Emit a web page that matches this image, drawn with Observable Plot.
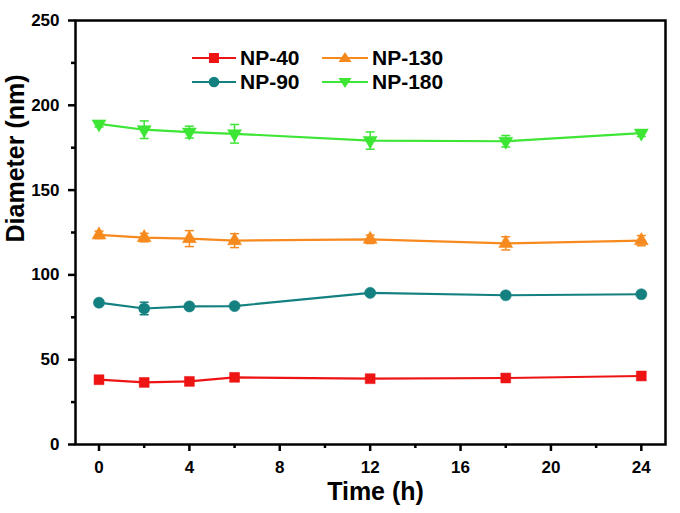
<!DOCTYPE html>
<html>
<head>
<meta charset="utf-8">
<script src="https://cdn.jsdelivr.net/npm/d3@7"></script>
<script src="https://cdn.jsdelivr.net/npm/@observablehq/plot@0.6"></script>
<style>
  body { margin: 0; background: #fff; }
  #wrap { position: relative; width: 680px; height: 513px; font-family: "Liberation Sans", Arial, sans-serif; }
  .leg { position: absolute; display: flex; align-items: center; height: 20px; font-size: 21px; line-height: 20px; font-weight: bold; color: #000; }
  .leg span { display: inline-block; height: 20px; line-height: 20px; overflow: visible; }
  .leg svg { margin-right: 4px; }
</style>
</head>
<body>
<div id="wrap"></div>
<script>
// ---- data ----
const times = [0, 2, 4, 6, 12, 18, 24];
const seriesNames = ["NP-40", "NP-90", "NP-130", "NP-180"];
const seriesColors = ["#ee1414", "#148080", "#f78a1e", "#3de535"];
const np40 = [38.2, 36.6, 37.2, 39.6, 38.8, 39.2, 40.4];
const np40Err = [1.0, 1.0, 1.0, 1.0, 0.8, 0.8, 0.8];
const np90 = [83.6, 80.2, 81.4, 81.6, 89.4, 88.0, 88.6];
const np90Err = [1.2, 3.7, 1.2, 1.2, 1.0, 1.0, 1.0];
const np130 = [123.6, 122.0, 121.4, 120.2, 121.0, 118.6, 120.2];
const np130Err = [2.2, 2.5, 4.7, 4.1, 2.5, 3.9, 3.0];
const np180 = [189.0, 185.6, 184.2, 183.2, 179.2, 178.8, 183.6];
const np180Err = [1.8, 5.2, 3.5, 5.5, 5.1, 3.4, 2.0];
const xMajorTicks = [0, 4, 8, 12, 16, 20, 24];
const xMinorTicks = [2, 6, 10, 14, 18, 22];
const yMajorTicks = [0, 50, 100, 150, 200, 250];
const yMinorTicks = [25, 75, 125, 175, 225];

const valueSets = [np40, np90, np130, np180];
const errSets = [np40Err, np90Err, np130Err, np180Err];

// ---- symbols ----
const triangleDown = {
  draw(ctx, size) {
    const y = Math.sqrt(size / (3 * Math.sqrt(3)));
    ctx.moveTo(0, 2 * y);
    ctx.lineTo(-Math.sqrt(3) * y, -y);
    ctx.lineTo(Math.sqrt(3) * y, -y);
    ctx.closePath();
  }
};
const triangleUp = {
  draw(ctx, size) {
    const y = Math.sqrt(size / (3 * Math.sqrt(3)));
    ctx.moveTo(0, -2 * y);
    ctx.lineTo(-Math.sqrt(3) * y, y);
    ctx.lineTo(Math.sqrt(3) * y, y);
    ctx.closePath();
  }
};
const cap = { draw(ctx) { ctx.moveTo(-4.5, 0); ctx.lineTo(4.5, 0); } };
const symbols = ["square", "circle", triangleUp, triangleDown];
const radii = [5.6, 5.6, 5.2, 5.2];

const rows = seriesNames.map((name, i) =>
  times.map((t, j) => ({series: name, t, v: valueSets[i][j], e: errSets[i][j]}))
);

const marks = [];
rows.forEach((data, i) => {
  const c = seriesColors[i];
  marks.push(Plot.ruleX(data, {x: "t", y1: d => d.v - d.e, y2: d => d.v + d.e, stroke: c, strokeWidth: 1.5}));
  marks.push(Plot.dot(data, {x: "t", y: d => d.v + d.e, symbol: cap, stroke: c, fill: "none", strokeWidth: 1.5}));
  marks.push(Plot.dot(data, {x: "t", y: d => d.v - d.e, symbol: cap, stroke: c, fill: "none", strokeWidth: 1.5}));
  marks.push(Plot.line(data, {x: "t", y: "v", stroke: c, strokeWidth: 2.2}));
  marks.push(Plot.dot(data, {x: "t", y: "v", symbol: symbols[i], r: radii[i], fill: c, stroke: c, strokeWidth: 0.5}));
});

const chart = Plot.plot({
  width: 680,
  height: 513,
  marginLeft: 75,
  marginRight: 15,
  marginTop: 20,
  marginBottom: 69,
  style: {fontFamily: "'Liberation Sans', Arial, sans-serif", background: "#fff", color: "#000"},
  x: {domain: [-1.04, 25.07], axis: null},
  y: {domain: [0, 250], axis: null},
  marks: [
    ...marks,
    Plot.axisX({ticks: xMajorTicks, tickSize: 7, tickPadding: 9, strokeWidth: 2.5, fontSize: 17, fontWeight: "bold", label: null}),
    Plot.axisX({ticks: xMinorTicks, tickSize: 4, strokeWidth: 2.5, tickFormat: () => "", label: null}),
    Plot.axisY({ticks: yMajorTicks, tickSize: 7, tickPadding: 9, strokeWidth: 2.5, fontSize: 17, fontWeight: "bold", label: null}),
    Plot.axisY({ticks: yMinorTicks, tickSize: 4, strokeWidth: 2.5, tickFormat: () => "", label: null}),
    Plot.frame({stroke: "#000", strokeWidth: 2.5}),
    Plot.text(["Time (h)"], {frameAnchor: "bottom", dy: 55, dx: 5, fontSize: 25, fontWeight: "bold", fill: "#000"}),
    Plot.text(["Diameter (nm)"], {frameAnchor: "left", rotate: -90, dx: -60, dy: 10, fontSize: 25, fontWeight: "bold", fill: "#000"})
  ]
});

const wrap = document.getElementById("wrap");
wrap.appendChild(chart);

// ---- legend (HTML overlay) ----
const legendPos = [[192, 57.5], [192, 81.5], [322, 57.5], [322, 81.5]];
function swatchSvg(i) {
  const c = seriesColors[i];
  const w = i < 2 ? 44 : 46;
  let marker;
  const cx = w / 2, cy = 8;
  if (i === 0) marker = `<rect x="${cx - 5}" y="${cy - 5}" width="10" height="10" fill="${c}"/>`;
  else if (i === 1) marker = `<circle cx="${cx}" cy="${cy}" r="5.3" fill="${c}"/>`;
  else if (i === 2) marker = `<path d="M${cx},${cy - 6}L${cx - 6.5},${cy + 4}L${cx + 6.5},${cy + 4}Z" fill="${c}"/>`;
  else marker = `<path d="M${cx},${cy + 6}L${cx - 6.5},${cy - 4}L${cx + 6.5},${cy - 4}Z" fill="${c}"/>`;
  return `<svg width="${w}" height="16"><line x1="0" x2="${w}" y1="${cy}" y2="${cy}" stroke="${c}" stroke-width="2.2"/>${marker}</svg>`;
}
seriesNames.forEach((name, i) => {
  const d = document.createElement("div");
  d.className = "leg";
  d.style.left = legendPos[i][0] + "px";
  d.style.top = (legendPos[i][1] - 10) + "px";
  d.innerHTML = swatchSvg(i) + `<span>${name}</span>`;
  wrap.appendChild(d);
});
</script>
</body>
</html>
